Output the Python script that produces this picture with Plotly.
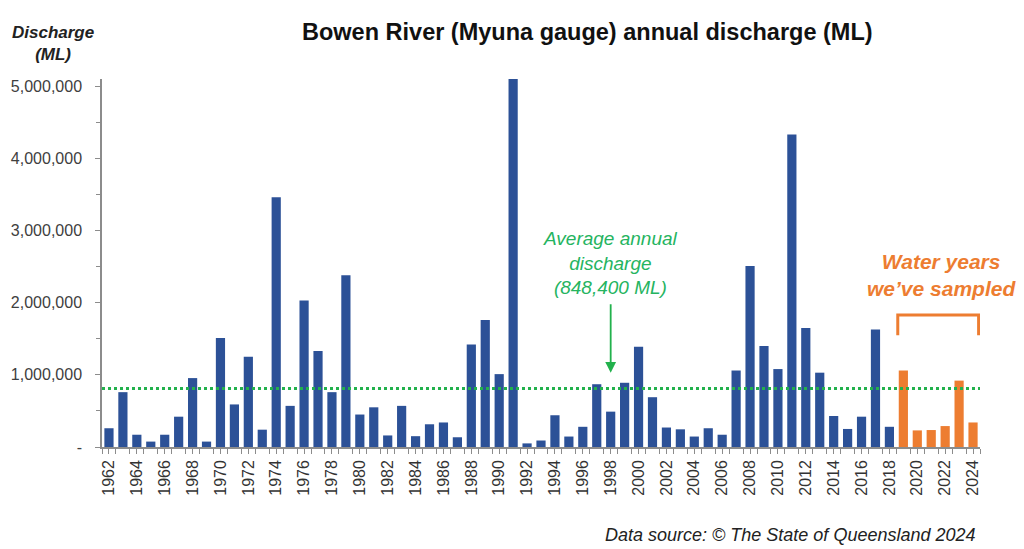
import plotly.graph_objects as go

# annual discharge (ML)
years = list(range(1962, 2025))
discharge = [
    260000, 760000, 170000, 75000, 170000, 420000, 955000, 75000, 1510000, 590000,  # 1962-1971
    1250000, 240000, 3460000, 570000, 2030000, 1330000, 760000, 2380000, 450000, 550000,  # 1972-1981
    160000, 570000, 150000, 315000, 340000, 135000, 1420000, 1760000, 1010000, 5100000,  # 1982-1991
    50000, 90000, 440000, 145000, 280000, 870000, 490000, 890000, 1390000, 690000,  # 1992-2001
    270000, 245000, 145000, 260000, 170000, 1060000, 2510000, 1400000, 1080000, 4330000,  # 2002-2011
    1650000, 1030000, 430000, 250000, 420000, 1630000, 280000,  # 2012-2018
    1060000, 230000, 235000, 290000, 920000, 340000,  # 2019-2024 sampled
]
sampled_from = 2019
avg_line = 810000

blue = "#2C5197"
orange = "#ED7D31"
green = "#22B14C"

colors = [orange if y >= sampled_from else blue for y in years]

fig = go.Figure()
fig.add_trace(go.Bar(x=years, y=discharge, marker=dict(color=colors, line=dict(width=0)),
                     width=0.66))

# average line
fig.add_shape(type="line", xref="x", yref="y", x0=1961.5, x1=2024.5, y0=avg_line, y1=avg_line,
              line=dict(color=green, width=3, dash="dot"))

# page body adds 8px, margins compensate
fig.update_layout(
    width=1024, height=549,
    margin=dict(l=94, r=52, t=71, b=110),
    plot_bgcolor="white", paper_bgcolor="white",
    showlegend=False,
    font=dict(family="Liberation Sans, Arial", color="#404040"),
)

fig.update_xaxes(
    range=[1961.5, 2024.5], automargin=False,
    tickmode="array", tickvals=years[::2], ticktext=[str(y) for y in years[::2]],
    tickangle=-90, tickfont=dict(size=16, color="#333333"),
    showline=True, linecolor="#8c8c8c", linewidth=1.5,
    ticks="outside", ticklen=5, tickcolor="#8c8c8c",
    minor=dict(tick0=1961.5, dtick=1, ticks="outside", ticklen=5, tickcolor="#8c8c8c"),
    showgrid=False, zeroline=False,
)
fig.update_yaxes(
    range=[0, 5100000], automargin=False,
    tickmode="array", tickvals=[0, 1000000, 2000000, 3000000, 4000000, 5000000],
    ticktext=["-", "1,000,000", "2,000,000", "3,000,000", "4,000,000", "5,000,000"],
    tickfont=dict(size=16, color="#404040"),
    showline=True, linecolor="#8c8c8c", linewidth=1.5,
    ticks="outside", ticklen=5, tickcolor="#8c8c8c",
    ticklabelstandoff=10,
    minor=dict(dtick=500000, ticks="outside", ticklen=4, tickcolor="#8c8c8c"),
    showgrid=False, zeroline=False,
)

# title and y label
fig.add_annotation(text="<b>Bowen River (Myuna gauge) annual discharge (ML)</b>",
                   xref="paper", yref="paper", x=0.553, y=1.0, yshift=47, xanchor="center",
                   yanchor="middle", showarrow=False, font=dict(size=23.5, color="#111111"))
fig.add_annotation(text="<b><i>Discharge<br>(ML)</i></b>",
                   xref="paper", yref="paper", x=-0.0558, y=1.0, yshift=36, xanchor="center",
                   yanchor="middle", showarrow=False, font=dict(size=17, color="#222222"))

# average note + arrow
fig.add_annotation(text="<i>Average annual<br>discharge<br>(848,400 ML)</i>",
                   xref="x", yref="y", x=1998, y=2550000, xanchor="center", yanchor="middle",
                   showarrow=False, font=dict(size=19, color="#25B45F"))
fig.add_annotation(x=1998, y=1030000, ax=1998, ay=2000000, xref="x", yref="y", axref="x", ayref="y",
                   showarrow=True, arrowhead=2, arrowsize=1.2, arrowwidth=1.8, arrowcolor=green, text="")

# sampled years note + bracket
fig.add_annotation(text="<b><i>Water years<br>we’ve sampled</i></b>",
                   xref="x", yref="y", x=2021.75, y=2385000, xanchor="center", yanchor="middle",
                   showarrow=False, font=dict(size=21, color=orange))
fig.add_shape(type="path", xref="x", yref="y",
              path="M 2018.6,1550000 L 2018.6,1830000 L 2024.4,1830000 L 2024.4,1550000",
              line=dict(color=orange, width=3))

fig.add_annotation(text="<i>Data source: © The State of Queensland 2024</i>",
                   xref="paper", yref="paper", x=0.784, y=0, yshift=-88, xanchor="center",
                   yanchor="middle", showarrow=False, font=dict(size=18, color="#222222"))

fig.write_html("out.html")
